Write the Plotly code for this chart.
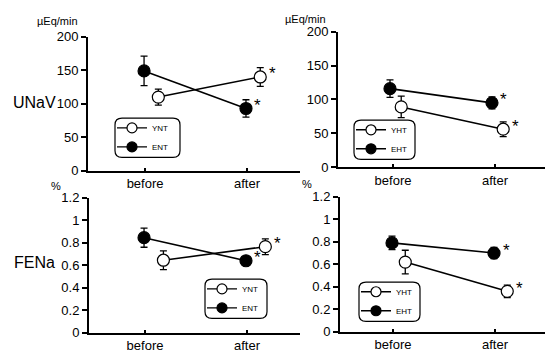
import plotly.graph_objects as go

# ---------------- data ----------------
phases = ["before", "after"]

# UNaV (µEq/min) - normotensive
ynt_unav = [110, 140]
ynt_unav_err = [12, 14]
ent_unav = [149, 93]
ent_unav_err = [22, 13]

# UNaV (µEq/min) - hypertensive
yht_unav = [89, 56]
yht_unav_err = [16, 11]
eht_unav = [116, 95]
eht_unav_err = [13, 9]

# FENa (%) - normotensive
ynt_fena = [0.645, 0.765]
ynt_fena_err = [0.083, 0.07]
ent_fena = [0.845, 0.64]
ent_fena_err = [0.085, 0.025]

# FENa (%) - hypertensive
yht_fena = [0.62, 0.36]
yht_fena_err = [0.105, 0.055]
eht_fena = [0.79, 0.70]
eht_fena_err = [0.06, 0.05]

unav_ticks = [0, 50, 100, 150, 200]
fena_ticks = [0, 0.2, 0.4, 0.6, 0.8, 1, 1.2]
fena_ticktext = ["0", "0.2", "0.4", "0.6", "0.8", "1", "1.2"]

# ---------------- style ----------------
FONT = "Liberation Sans, Arial, Helvetica, sans-serif"
BLACK = "#000000"
W, H = 550, 360
base = list(range(len(phases)))

fig = go.Figure()

panels = [
    dict(xa="x", ya="y", lg="legend",
         open=("YNT", ynt_unav, ynt_unav_err), filled=("ENT", ent_unav, ent_unav_err),
         off_open=0.13, off_filled=-0.01),
    dict(xa="x2", ya="y2", lg="legend2",
         open=("YHT", yht_unav, yht_unav_err), filled=("EHT", eht_unav, eht_unav_err),
         off_open=0.08, off_filled=-0.03),
    dict(xa="x3", ya="y3", lg="legend3",
         open=("YNT", ynt_fena, ynt_fena_err), filled=("ENT", ent_fena, ent_fena_err),
         off_open=0.18, off_filled=-0.01),
    dict(xa="x4", ya="y4", lg="legend4",
         open=("YHT", yht_fena, yht_fena_err), filled=("EHT", eht_fena, eht_fena_err),
         off_open=0.12, off_filled=-0.01),
]

annotations = []
for p in panels:
    for kind in ("open", "filled"):
        name, vals, errs = p[kind]
        off = p["off_" + kind]
        xs = [b + off for b in base]
        fill = "white" if kind == "open" else BLACK
        fig.add_trace(go.Scatter(
            x=xs, y=vals, name=name, mode="lines+markers",
            xaxis=p["xa"], yaxis=p["ya"], showlegend=False,
            line=dict(color=BLACK, width=1.6),
            marker=dict(symbol="circle", size=12, color=fill,
                        line=dict(color=BLACK, width=1.2)),
            error_y=dict(type="data", array=errs, visible=True,
                         color=BLACK, thickness=1.3, width=3.5),
            cliponaxis=False,
        ))
        # legend entry (smaller symbol, as in the original key)
        fig.add_trace(go.Scatter(
            x=[None], y=[None], name=name, mode="lines+markers",
            xaxis=p["xa"], yaxis=p["ya"], legend=p["lg"], showlegend=True,
            line=dict(color=BLACK, width=1.4),
            marker=dict(symbol="circle", size=10, color=fill,
                        line=dict(color=BLACK, width=1.2)),
        ))
        # significance asterisk next to the "after" point
        annotations.append(dict(
            x=xs[-1], y=vals[-1], xref=p["xa"], yref=p["ya"],
            text="*", showarrow=False, xshift=12, yshift=3,
            font=dict(family=FONT, size=17, color=BLACK)))

def xd(a, b):
    return [a / W, b / W]

def yd(top, bottom):
    return [1 - bottom / H, 1 - top / H]

xcommon = dict(tickmode="array", tickvals=base, ticktext=phases,
               showline=True, linecolor=BLACK, linewidth=2,
               ticks="inside", ticklen=3, tickwidth=1.5, tickcolor=BLACK,
               showgrid=False, zeroline=False,
               tickfont=dict(family=FONT, size=13, color=BLACK))
ycommon = dict(showline=True, linecolor=BLACK, linewidth=2,
               ticks="outside", ticklen=5, tickwidth=1.5, tickcolor=BLACK,
               showgrid=False, zeroline=False,
               tickfont=dict(family=FONT, size=13, color=BLACK))

fig.update_layout(
    width=W, height=H,
    margin=dict(l=0, r=0, t=0, b=0),
    paper_bgcolor="white", plot_bgcolor="white",
    font=dict(family=FONT, color=BLACK),
    xaxis=dict(xcommon, domain=xd(88, 300), range=[-0.56, 1.52], anchor="y"),
    yaxis=dict(ycommon, domain=yd(31, 171), range=[0, 200],
               tickvals=unav_ticks, anchor="x"),
    xaxis2=dict(xcommon, domain=xd(338, 545), range=[-0.54, 1.49], anchor="y2"),
    yaxis2=dict(ycommon, domain=yd(26, 167), range=[0, 200],
                tickvals=unav_ticks, anchor="x2"),
    xaxis3=dict(xcommon, domain=xd(89, 300), range=[-0.55, 1.52], anchor="y3"),
    yaxis3=dict(ycommon, domain=yd(199, 340), range=[0, 1.2],
                tickvals=fena_ticks, ticktext=fena_ticktext, anchor="x3"),
    xaxis4=dict(xcommon, domain=xd(340, 545), range=[-0.52, 1.49], anchor="y4"),
    yaxis4=dict(ycommon, domain=yd(198, 339), range=[0, 1.2],
                tickvals=fena_ticks, ticktext=fena_ticktext, anchor="x4"),
)

# legends, one per panel, inside rounded boxes (left, top, right, bottom in px)
legend_boxes = {
    "legend": (115, 116, 180, 157),
    "legend2": (354, 118, 415, 159),
    "legend3": (205, 284, 267, 325),
    "legend4": (359, 287, 420, 328),
}
shapes = []
for key, (l, t, r, b) in legend_boxes.items():
    fig.update_layout({key: dict(
        x=(l - 3) / W, y=1 - (t - 5) / H, xanchor="left", yanchor="top",
        bgcolor="rgba(0,0,0,0)", borderwidth=0,
        font=dict(family=FONT, size=8, color=BLACK),
        itemwidth=30, tracegroupgap=0)})
    rr = 7
    x0, x1 = l / W, r / W
    y0, y1 = 1 - b / H, 1 - t / H
    rx, ry = rr / W, rr / H
    path = (f"M {x0+rx},{y1} L {x1-rx},{y1} Q {x1},{y1} {x1},{y1-ry} "
            f"L {x1},{y0+ry} Q {x1},{y0} {x1-rx},{y0} L {x0+rx},{y0} "
            f"Q {x0},{y0} {x0},{y0+ry} L {x0},{y1-ry} Q {x0},{y1} {x0+rx},{y1} Z")
    shapes.append(dict(type="path", path=path, xref="paper", yref="paper",
                       line=dict(color=BLACK, width=1.2), layer="above"))

def pa(text, px, py, size):
    return dict(text=text, x=px / W, y=1 - py / H, xref="paper", yref="paper",
                showarrow=False, xanchor="center", yanchor="middle",
                font=dict(family=FONT, size=size, color=BLACK))

annotations += [
    pa("µEq/min", 57, 15, 11),
    pa("µEq/min", 305, 13, 11),
    pa("UNaV", 35, 100, 16),
    pa("FENa", 34, 267, 16),
    pa("%", 56, 187, 11),
    pa("%", 307, 185, 11),
]

fig.update_layout(annotations=annotations, shapes=shapes, showlegend=True)
fig.write_html("out.html")
